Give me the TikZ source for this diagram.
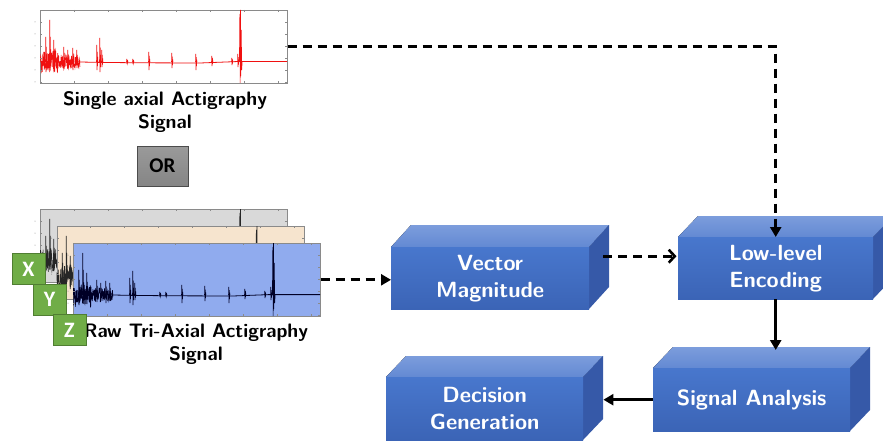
\documentclass[tikz,border=0pt]{standalone}
\usepackage{fontspec}
\newfontfamily\calibri{Carlito}
\usetikzlibrary{arrows.meta,calc}

\definecolor{cubefrontA}{HTML}{4877CD}
\definecolor{cubefrontB}{HTML}{3B64B6}
\definecolor{cubetopA}{HTML}{7C9DDC}
\definecolor{cubetopB}{HTML}{6389D3}
\definecolor{cubeside}{HTML}{3659A8}
\definecolor{panelgray}{HTML}{D9D9D9}
\definecolor{panelbeige}{HTML}{F6E4CE}
\definecolor{panelblue}{HTML}{90ABEE}
\definecolor{framegray}{HTML}{8A8A8A}
\definecolor{axisgreen}{HTML}{70AD47}
\definecolor{axisgreenD}{HTML}{507E32}
\definecolor{orgrayA}{HTML}{9A9A9A}
\definecolor{orgrayB}{HTML}{858585}
\definecolor{signalred}{HTML}{F01010}

% one actigraphy trace in local panel coordinates (247 x 73, baseline at 52)
\newcommand\actiwave[1]{%
  \pgfmathsetseed{#1}%
  \draw[sigline] plot[domain=0:40, samples=170, variable=\t] (\t,{52+env(\t)*rand});
  \draw[sigline, line width=0.8pt] (40,52) -- (60,52.4) -- (100,52.8) -- (160,53)
    -- (196,51.6) -- (247,51.6);
  \foreach \p/\u/\d in {6/25/10, 10/42/8, 14/22/9, 24/15/7, 28/12/6, 33/14/8, 37/12/6,
      57/17/8, 60/24/10, 62/12/5, 87/3/2, 93/3/2, 109/10/8, 132/9/6, 156/8/8,
      172/6/4, 192/4/3, 198/8/5}
    \draw[sigline] ({\p-0.5},52) -- ({\p-0.25},{52-\u}) -- (\p,{52+\d})
      -- ({\p+0.25},{52-0.6*\u}) -- ({\p+0.5},{52+0.5*\d})
      -- ({\p+0.75},{52-0.3*\u}) -- ({\p+1},52);
  \draw[sigline] (199.4,52) -- (199.8,4) -- (200.2,73) -- (200.5,0) -- (200.9,66)
    -- (201.3,20) -- (201.7,60) -- (202.2,52);
}

% small axis ticks of a plot panel
\newcommand\frameticks{%
  \foreach \k in {34,68,...,238} {
    \draw[tickmark] (\k,0) -- (\k,2);
    \draw[tickmark] (\k,73) -- (\k,71);
  }
  \foreach \k in {12,24,...,72} {
    \draw[tickmark] (0,\k) -- (2,\k);
    \draw[tickmark] (247,\k) -- (245,\k);
    \fill[framegray] (-5,\k) circle (0.5);
  }
}

% 3D block: name, x, y, width, height, depth-x, depth-y, text
\newcommand\cube[8]{%
  \fill[top color=cubetopA, bottom color=cubetopB]
    (#2,#3) -- ++(#6,-#7) -- ++(#4,0) -- ({#2+#4},#3) -- cycle;
  \fill[cubeside] ({#2+#4},#3) -- ++(#6,-#7) -- ++(0,#5) -- ({#2+#4},{#3+#5}) -- cycle;
  \node[cubefront, minimum width=#4pt, minimum height=#5pt, anchor=north west]
    (#1) at (#2,#3) {#8};
}

\begin{document}
\begin{tikzpicture}[x=1pt, y=-1pt,
  declare function={env(\t)=3+9*(\t<18)+4*(\t>=18);},
  sigline/.style={line width=0.55pt},
  tickmark/.style={framegray, line width=0.4pt},
  panel/.style={draw=framegray, line width=0.6pt, minimum width=247pt,
    minimum height=73pt, inner sep=0pt, anchor=north west},
  label/.style={font=\sffamily\bfseries\fontsize{19.5}{23}\selectfont, align=center},
  cubefront/.style={top color=cubefrontA, bottom color=cubefrontB, inner sep=0pt,
    text=white, align=center, font=\sffamily\bfseries\fontsize{22}{27}\selectfont},
  axisbox/.style={fill=axisgreen, draw=axisgreenD, line width=0.8pt, text=white,
    minimum width=33pt, minimum height=31pt, inner sep=0pt,
    font=\calibri\bfseries\fontsize{22}{22}\selectfont},
  orbox/.style={top color=orgrayA, bottom color=orgrayB, draw=black!70,
    line width=0.6pt, minimum width=51pt, minimum height=40pt, inner sep=0pt,
    font=\calibri\bfseries\fontsize{21}{21}\selectfont},
  flow/.style={line width=3pt, -{Triangle[length=10pt,width=11pt]}},
  dashflow/.style={flow, dash pattern=on 9pt off 6pt},
  barbflow/.style={line width=3pt, dash pattern=on 9pt off 6pt,
    -{Straight Barb[length=6pt,width=13pt,line width=2.6pt]}}]

\useasboundingbox (0,0) rectangle (883,441);

% ---- single axial actigraphy plot ----
\node[panel, fill=white] (single) at (40,10) {};
\begin{scope}[shift={(40,10)}]
  \begin{scope}
    \clip (0,0) rectangle (247,73);
    \begin{scope}[signalred]
      \actiwave{11}
    \end{scope}
  \end{scope}
  \frameticks
\end{scope}
\node[label] (singlelabel) at (165,112) {Single axial Actigraphy\\Signal};

% ---- OR ----
\node[orbox] (or) at (162.5,166) {OR};

% ---- stacked tri-axial plots ----
\node[panel, fill=panelgray] (xpanel) at (40,209) {};
\begin{scope}[shift={(40,209)}]
  \begin{scope}
    \clip (0,0) rectangle (247,73);
    \begin{scope}[black!85]
      \actiwave{5}
    \end{scope}
  \end{scope}
  \frameticks
\end{scope}

\node[panel, fill=panelbeige] (ypanel) at (56.5,226) {};
\begin{scope}[shift={(56.5,226)}]
  \begin{scope}
    \clip (0,0) rectangle (247,73);
    \begin{scope}[black!85]
      \actiwave{7}
    \end{scope}
  \end{scope}
  \frameticks
\end{scope}

\node[panel, fill=panelblue] (zpanel) at (73,243) {};
\begin{scope}[shift={(73,243)}]
  \begin{scope}
    \clip (0,0) rectangle (247,73);
    \begin{scope}[black!85!blue]
      \actiwave{9}
    \end{scope}
  \end{scope}
  \frameticks
\end{scope}

\node[label] (trilabel) at (196,344) {Raw Tri-Axial Actigraphy\\Signal};

\node[axisbox] (xbox) at (28.5,269) {X};
\node[axisbox] (ybox) at (49.5,299.5) {Y};
\node[axisbox] (zbox) at (69.5,330) {Z};

% ---- processing blocks ----
\cube{vm}{391}{247}{198}{62}{20}{22}{Vector\\Magnitude}
\cube{ll}{678}{237}{195}{62}{20}{21}{Low-level\\Encoding}
\cube{sa}{653}{368}{197}{63}{20}{21}{Signal Analysis}
\cube{dg}{386}{377}{197}{63}{20}{21}{Decision\\Generation}

% ---- connectors ----
\draw[dashflow] (single.east) -| (ll.north);
\draw[dashflow] (zpanel.east) -- (zpanel.east -| vm.west);
\coordinate (vmout) at ($(vm.east)+(14,-22)$);
\draw[barbflow] (vmout) -- ($(vmout -| ll.west)+(-1.5,0)$);
\draw[flow] (ll.south) -- ($(ll.south |- sa.north)+(0,-18)$);
\coordinate (dgside) at ($(dg.east)+(20,0)$);
\draw[flow] (sa.west) -- (sa.west -| dgside);

\end{tikzpicture}
\end{document}
